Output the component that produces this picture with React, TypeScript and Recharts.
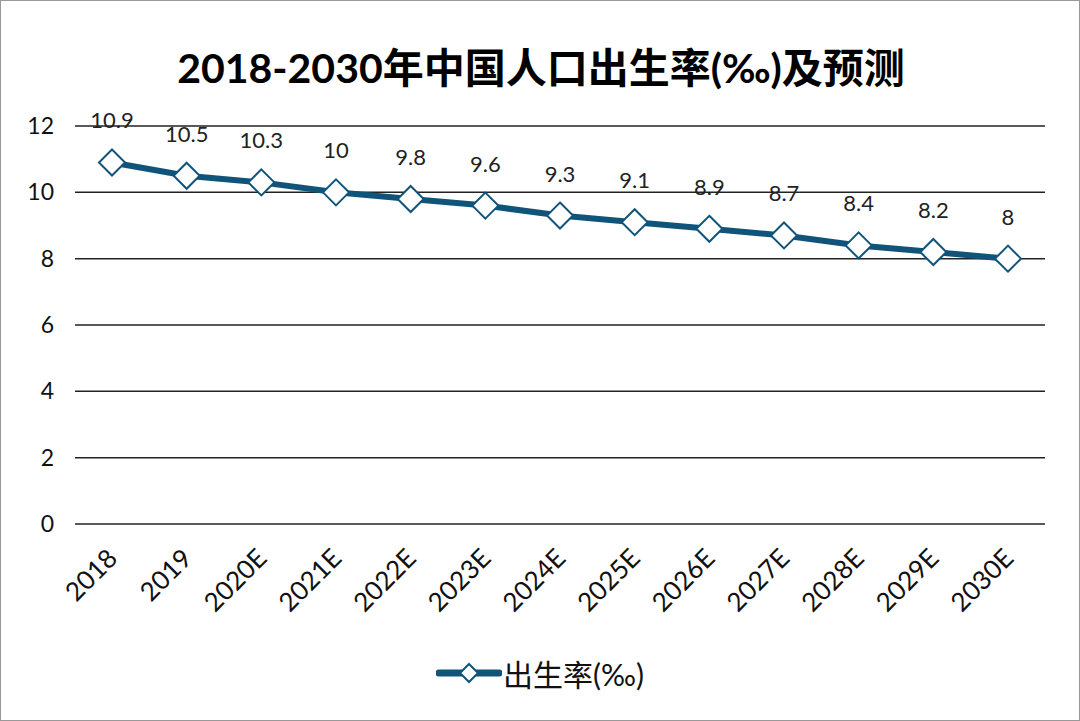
import React from "react";
import { LineChart, Line, XAxis, YAxis, CartesianGrid, Legend, LabelList } from "recharts";

const years = ["2018", "2019", "2020E", "2021E", "2022E", "2023E", "2024E", "2025E", "2026E", "2027E", "2028E", "2029E", "2030E"];
const birthRate = [10.9, 10.5, 10.3, 10, 9.8, 9.6, 9.3, 9.1, 8.9, 8.7, 8.4, 8.2, 8];
const yTicks = [0, 2, 4, 6, 8, 10, 12];

const data = years.map((year, i) => ({ year, rate: birthRate[i] }));

const lineColor = "#115479";
const font = "Lato, 'Noto Sans CJK SC', sans-serif";

function Diamond(props: any) {
  const { cx, cy } = props;
  if (cx == null || cy == null) return null;
  const r = 13;
  return (
    <path
      d={`M${cx},${cy - r} L${cx + r},${cy} L${cx},${cy + r} L${cx - r},${cy} Z`}
      fill="#fff"
      stroke={lineColor}
      strokeWidth={2}
    />
  );
}

function XTick(props: any) {
  const { x, y, payload } = props;
  return (
    <g transform={`translate(${x + 7},${y + 28})`}>
      <text transform="rotate(-45)" textAnchor="end" fontSize={26} fill="#111" fontFamily={font}>
        {payload.value}
      </text>
    </g>
  );
}

function LegendContent() {
  return (
    <div style={{ display: "flex", justifyContent: "center", alignItems: "center", fontFamily: font }}>
      <svg width={66} height={26}>
        <line x1={3} y1={13} x2={63} y2={13} stroke={lineColor} strokeWidth={7} strokeLinecap="round" />
        <path d="M33,4 L42,13 L33,22 L24,13 Z" fill="#fff" stroke={lineColor} strokeWidth={2} />
      </svg>
      <span style={{ fontSize: 30, color: "#111", marginLeft: 1 }}>出生率(‰)</span>
    </div>
  );
}

export default function App() {
  return (
    <div
      style={{
        position: "absolute",
        left: 0,
        top: 0,
        width: 1080,
        height: 721,
        background: "#fff",
        border: "1px solid #999",
        boxSizing: "border-box",
        overflow: "hidden",
      }}
    >
      <div
        style={{
          position: "absolute",
          top: 34,
          left: 0,
          width: 1080,
          textAlign: "center",
          fontFamily: font,
          fontWeight: 700,
          fontSize: 41,
          color: "#000",
        }}
      >
        2018-2030年中国人口出生率(‰)及预测
      </div>
      <LineChart
        width={1078}
        height={719}
        data={data}
        margin={{ top: 125, right: 34, bottom: 0, left: 20 }}
      >
        <CartesianGrid vertical={false} stroke="#222" strokeWidth={1.5} />
        <XAxis
          dataKey="year"
          axisLine={false}
          tickLine={false}
          interval={0}
          height={152}
          padding={{ left: 37, right: 37 }}
          tick={<XTick />}
        />
        <YAxis
          domain={[0, 12]}
          ticks={yTicks}
          width={54}
          axisLine={false}
          tickLine={false}
          tickSize={0}
          tickMargin={21}
          tick={{ fontSize: 23, fill: "#111", fontFamily: font }}
        />
        <Legend
          verticalAlign="bottom"
          content={<LegendContent />}
          wrapperStyle={{ top: 650, left: 0, width: 1078 }}
        />
        <Line
          type="linear"
          dataKey="rate"
          stroke={lineColor}
          strokeWidth={6}
          dot={<Diamond />}
          activeDot={false}
          isAnimationActive={false}
        >
          <LabelList dataKey="rate" position="top" offset={34} fontSize={22} fill="#222" fontFamily={font} />
        </Line>
      </LineChart>
    </div>
  );
}
